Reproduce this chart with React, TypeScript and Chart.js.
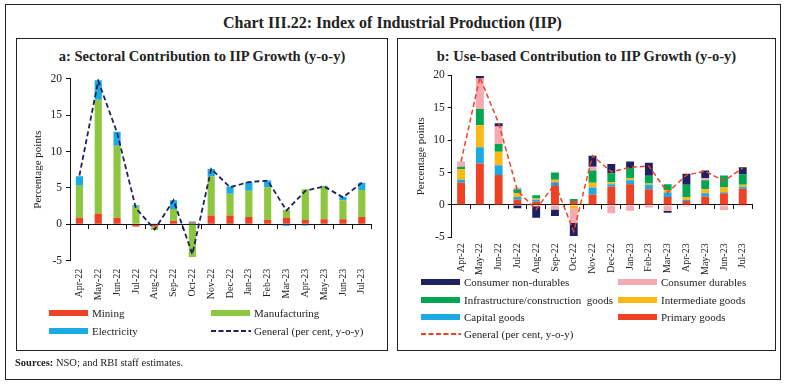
import React, { useEffect, useRef } from 'react';
import { Chart, registerables } from 'chart.js';

Chart.register(...registerables);

const FONT = "'Liberation Serif', 'Times New Roman', serif";

const months = ['Apr-22', 'May-22', 'Jun-22', 'Jul-22', 'Aug-22', 'Sep-22', 'Oct-22', 'Nov-22', 'Dec-22', 'Jan-23', 'Feb-23', 'Mar-23', 'Apr-23', 'May-23', 'Jun-23', 'Jul-23'];
const general = [6.7, 19.7, 12.6, 2.2, -0.7, 3.3, -4.1, 7.6, 5.1, 5.8, 6.0, 1.9, 4.6, 5.2, 3.7, 5.7];

// Panel a: sectoral
const mining = [0.9, 1.5, 0.9, -0.3, -0.3, 0.5, 0.2, 1.2, 1.2, 1.0, 0.6, 0.9, 0.6, 0.7, 0.7, 1.0];
const manufacturing = [4.4, 15.6, 9.9, 2.4, -0.5, 1.6, -4.5, 5.4, 3.0, 3.6, 4.5, 1.1, 4.2, 4.5, 2.6, 3.7];
const electricity = [1.3, 2.7, 1.9, 0.2, 0.1, 1.2, 0.2, 1.0, 1.0, 1.2, 0.9, -0.2, -0.15, 0.1, 0.5, 1.0];

// Panel b: use-based
const primaryGoods = [3.4, 6.4, 4.6, 0.8, 0.5, 2.9, 0.6, 1.6, 2.8, 3.2, 2.4, 1.2, 0.6, 1.3, 1.8, 2.5];
const capitalGoods = [0.5, 2.5, 1.5, 0.4, 0.3, 0.6, 0.0, 1.1, 0.4, 0.6, 0.7, 0.7, 0.2, 0.5, 0.15, 0.3];
const intermediateGoods = [1.6, 3.4, 2.1, 0.6, 0.2, 0.4, -0.6, 0.7, 0.3, 0.3, 0.2, 0.4, 0.4, 0.6, 0.8, 0.3];
const infraGoods = [0.4, 2.5, 1.2, 0.6, 0.5, 1.1, 0.3, 1.9, 1.4, 1.6, 1.2, 0.9, 1.9, 1.4, 1.8, 1.6];
const consumerDurables = [0.8, 4.7, 2.7, 0.3, -0.2, -0.7, -2.2, 0.6, -1.3, -0.9, -0.4, -0.9, -0.2, 0.3, -0.8, -0.2];
const consumerNonDurables = [0.0, 0.4, 0.5, -0.5, -1.8, -1.0, -2.0, 1.7, 1.4, 1.0, 2.0, -0.3, 1.7, 1.2, 0.0, 1.1];

const yTicks = { min: -5, max: 20, step: 5 };

const C = {
  red: '#EF4123',
  green: '#8DC63F',
  blue: '#1CAAE2',
  navy: '#1E2161',
  pink: '#F5A9B0',
  dkgreen: '#00A651',
  yellow: '#FDB913',
};

interface Geo {
  padLeft: number;
  padTop: number;
  padRight: number;
  yWidth: number;
  xHeight: number;
  barPct: number;
  xPad: number;
  yPad: number;
}

function buildConfig(datasets: any[], lineColor: string, lineWidth: number, g: Geo): any {
  return {
    type: 'bar',
    data: {
      labels: months,
      datasets: [
        ...datasets.map((d) => ({
          type: 'bar',
          label: d.label,
          data: d.data,
          backgroundColor: d.color,
          borderWidth: 0,
          stack: 'bars',
          order: 1,
          barPercentage: g.barPct,
          categoryPercentage: 1,
        })),
        {
          type: 'line',
          label: 'General (per cent, y-o-y)',
          data: general,
          borderColor: lineColor,
          borderWidth: lineWidth,
          borderDash: [5, 3],
          pointRadius: 0,
          tension: 0,
          fill: false,
          stack: 'line',
          order: 0,
        },
      ],
    },
    options: {
      responsive: false,
      devicePixelRatio: 1,
      animation: false,
      layout: { padding: { left: g.padLeft, top: g.padTop, right: g.padRight, bottom: 0 } },
      plugins: { legend: { display: false }, tooltip: { enabled: false }, title: { display: false } },
      scales: {
        x: {
          type: 'category',
          stacked: true,
          offset: true,
          border: { display: false },
          grid: { display: false, drawTicks: false },
          ticks: {
            autoSkip: false,
            minRotation: 90,
            maxRotation: 90,
            padding: g.xPad,
            color: '#222',
            font: { family: FONT, size: 10 },
          },
          afterFit: (s: any) => {
            s.height = g.xHeight;
          },
        },
        x2: {
          type: 'category',
          position: { y: 0 },
          offset: true,
          border: { display: true, color: '#111', width: 1 },
          grid: { display: true, offset: true, drawOnChartArea: false, tickLength: 4, color: '#111' },
          ticks: { display: false },
        },
        y: {
          stacked: true,
          min: yTicks.min,
          max: yTicks.max,
          border: { display: true, color: '#111', width: 1 },
          grid: { display: true, drawOnChartArea: false, tickLength: 4, color: '#111' },
          ticks: {
            stepSize: yTicks.step,
            padding: g.yPad,
            color: '#222',
            font: { family: FONT, size: 11.5 },
          },
          title: {
            display: true,
            text: 'Percentage points',
            color: '#222',
            font: { family: FONT, size: 11 },
            padding: { top: 4, bottom: 0 },
          },
          afterFit: (s: any) => {
            s.width = g.yWidth;
          },
        },
      },
    },
  };
}

function ChartCanvas({ config, left, top, width, height }: any) {
  const ref = useRef<HTMLCanvasElement>(null);
  useEffect(() => {
    const chart = new Chart(ref.current as HTMLCanvasElement, config);
    return () => chart.destroy();
  }, []);
  return (
    <canvas
      ref={ref}
      width={width}
      height={height}
      style={{ position: 'absolute', left, top, width, height }}
    />
  );
}

function Swatch({ x, y, color }: any) {
  return <div style={{ position: 'absolute', left: x, top: y - 3, width: 39, height: 6, background: color }} />;
}

function DashSwatch({ x, y, color }: any) {
  return (
    <svg style={{ position: 'absolute', left: x, top: y - 2 }} width={40} height={4}>
      <line x1={0} y1={2} x2={40} y2={2} stroke={color} strokeWidth={2} strokeDasharray="5,2.5" />
    </svg>
  );
}

function LegendText({ x, y, text }: any) {
  return (
    <div
      style={{
        position: 'absolute',
        left: x,
        top: y - 8,
        height: 16,
        lineHeight: '16px',
        fontFamily: FONT,
        fontSize: 11,
        color: '#222',
        whiteSpace: 'pre',
      }}
    >
      {text}
    </div>
  );
}

export default function App() {
  const leftCfg = buildConfig(
    [
      { label: 'Mining', data: mining, color: C.red },
      { label: 'Manufacturing', data: manufacturing, color: C.green },
      { label: 'Electricity', data: electricity, color: C.blue },
    ],
    C.navy,
    1.8,
    { padLeft: 8, padTop: 12.7, padRight: 6.3, yWidth: 42, xHeight: 45.3, barPct: 0.38, xPad: 8, yPad: 4 }
  );
  const rightCfg = buildConfig(
    [
      { label: 'Primary goods', data: primaryGoods, color: C.red },
      { label: 'Capital goods', data: capitalGoods, color: C.blue },
      { label: 'Intermediate goods', data: intermediateGoods, color: C.yellow },
      { label: 'Infrastructure/construction goods', data: infraGoods, color: C.dkgreen },
      { label: 'Consumer durables', data: consumerDurables, color: C.pink },
      { label: 'Consumer non-durables', data: consumerNonDurables, color: C.navy },
    ],
    C.red,
    1.5,
    { padLeft: 8, padTop: 13.3, padRight: 8, yWidth: 40.7, xHeight: 39.7, barPct: 0.42, xPad: 6, yPad: 3 }
  );

  const frame = (left: number, top: number, w: number, h: number) => ({
    position: 'absolute' as const,
    left,
    top,
    width: w,
    height: h,
    border: '1px solid #222',
    boxSizing: 'border-box' as const,
  });

  return (
    <div style={{ position: 'fixed', left: 0, top: 0, width: 785, height: 384, background: '#fff', overflow: 'hidden' }}>
      <div style={frame(5, 4, 776, 376)} />
      <div
        style={{
          position: 'absolute',
          left: 0,
          width: 785,
          top: 13,
          textAlign: 'center',
          fontFamily: FONT,
          fontWeight: 'bold',
          fontSize: 16,
          lineHeight: '20px',
          color: '#222',
        }}
      >
        Chart III.22: Index of Industrial Production (IIP)
      </div>

      <div style={frame(16, 38, 372, 313)} />
      <div style={frame(397, 38, 379, 313)} />

      <div
        style={{
          position: 'absolute',
          left: 16,
          width: 372,
          top: 47,
          textAlign: 'center',
          fontFamily: FONT,
          fontWeight: 'bold',
          fontSize: 14.5,
          lineHeight: '18px',
          color: '#222',
        }}
      >
        a: Sectoral Contribution to IIP Growth (y-o-y)
      </div>
      <div
        style={{
          position: 'absolute',
          left: 397,
          width: 379,
          top: 47,
          textAlign: 'center',
          fontFamily: FONT,
          fontWeight: 'bold',
          fontSize: 14.5,
          lineHeight: '18px',
          color: '#222',
        }}
      >
        b: Use-based Contribution to IIP Growth (y-o-y)
      </div>

      <ChartCanvas config={leftCfg} left={20} top={66} width={362} height={240} />
      <ChartCanvas config={rightCfg} left={403} top={62} width={358} height={215} />

      {/* Left legend */}
      <Swatch x={49} y={312.7} color={C.red} />
      <LegendText x={92} y={312.7} text="Mining" />
      <Swatch x={211} y={312.7} color={C.green} />
      <LegendText x={254} y={312.7} text="Manufacturing" />
      <Swatch x={49} y={330.7} color={C.blue} />
      <LegendText x={92} y={330.7} text="Electricity" />
      <DashSwatch x={211} y={330.7} color={C.navy} />
      <LegendText x={254} y={330.7} text="General (per cent, y-o-y)" />

      {/* Right legend */}
      <Swatch x={421} y={282.3} color={C.navy} />
      <LegendText x={464} y={282.3} text="Consumer non-durables" />
      <Swatch x={618} y={282.3} color={C.pink} />
      <LegendText x={661} y={282.3} text="Consumer durables" />
      <Swatch x={421} y={300} color={C.dkgreen} />
      <LegendText x={464} y={300} text="Infrastructure/construction  goods" />
      <Swatch x={618} y={300} color={C.yellow} />
      <LegendText x={661} y={300} text="Intermediate goods" />
      <Swatch x={421} y={317.3} color={C.blue} />
      <LegendText x={464} y={317.3} text="Capital goods" />
      <Swatch x={618} y={317.3} color={C.red} />
      <LegendText x={661} y={317.3} text="Primary goods" />
      <DashSwatch x={421} y={334.3} color={C.red} />
      <LegendText x={464} y={334.3} text="General (per cent, y-o-y)" />

      <div
        style={{
          position: 'absolute',
          left: 15,
          top: 356,
          fontFamily: FONT,
          fontSize: 10.5,
          lineHeight: '14px',
          color: '#222',
        }}
      >
        <b>Sources:</b> NSO; and RBI staff estimates.
      </div>
    </div>
  );
}
